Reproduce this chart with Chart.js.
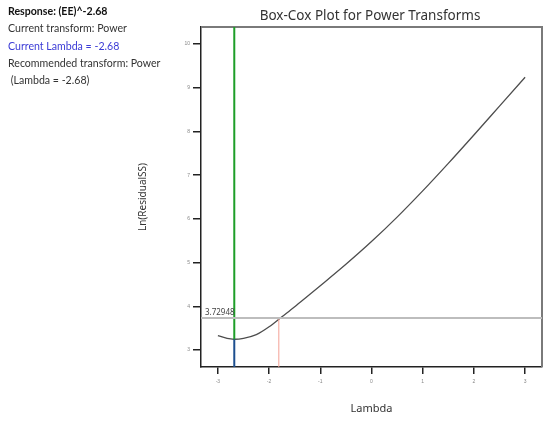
<!DOCTYPE html>
<html>
<head>
<meta charset="utf-8">
<script src="https://cdn.jsdelivr.net/npm/chart.js@4"></script>
<style>
  body { margin: 0; background: #fff; }
  #wrap { position: relative; width: 550px; height: 422px; }
  #info { position: absolute; left: 8px; top: 3px; font-family: Lato, 'Noto Sans', sans-serif; font-size: 10.6px; color: #333; line-height: 17.3px; }
  #info .b { font-weight: bold; color: #111; }
  #info .blue { color: #3b3bd6; }
</style>
</head>
<body>
<div id="wrap">
  <canvas id="boxCox" width="550" height="422"></canvas>
  <div id="info">
    <div class="b">Response: (EE)^-2.68</div>
    <div>Current transform: Power</div>
    <div class="blue">Current Lambda = -2.68</div>
    <div>Recommended transform: Power</div>
    <div>&nbsp;(Lambda = -2.68)</div>
  </div>
</div>
<script>
// values
const lambdas = [-3, -2.75, -2.68, -2.5, -2.25, -2, -1.75, -1.5, -1.25, -1, -0.5, 0, 0.5, 1, 1.5, 2, 2.5, 3];
const lnResidualSS = [3.33, 3.252, 3.245, 3.265, 3.35, 3.53, 3.76, 3.99, 4.23, 4.47, 4.96, 5.48, 6.04, 6.64, 7.27, 7.92, 8.58, 9.24];
const xTicks = [-3, -2, -1, 0, 1, 2, 3];
const yTicks = [3, 4, 5, 6, 7, 8, 9, 10];
const xMin = -3.33, xMax = 3.33, yMin = 2.61, yMax = 10.39;
const currentLambda = -2.68;
const minLn = 3.245;
const ciLevel = 3.72948;
const ciLambda = -1.81;

const curve = lambdas.map((l, i) => ({ x: l, y: lnResidualSS[i] }));

function seg(points, color, width) {
    return {
        data: points,
        showLine: true,
        borderColor: color,
        borderWidth: width,
        pointRadius: 0,
        fill: false
    };
}

const overlay = {
    id: 'overlay',
    beforeDatasetsDraw(chart) {
        const { ctx, chartArea: a } = chart;
        ctx.save();
        ctx.strokeStyle = '#7a7a7a';
        ctx.lineWidth = 2;
        ctx.beginPath();
        ctx.moveTo(a.left, a.top);
        ctx.lineTo(a.right, a.top);
        ctx.lineTo(a.right, a.bottom);
        ctx.stroke();
        ctx.restore();
    },
    afterDraw(chart) {
        const { ctx, chartArea: a, scales } = chart;
        ctx.save();
        ctx.fillStyle = '#333';
        ctx.font = '13.5px "Noto Sans", sans-serif';
        ctx.textAlign = 'center';
        ctx.textBaseline = 'middle';
        ctx.fillText('Box-Cox Plot for Power Transforms', 370, 16);

        ctx.font = '11px "Noto Sans", sans-serif';
        ctx.fillText('Lambda', (a.left + a.right) / 2, 409);

        ctx.save();
        ctx.translate(143, 197);
        ctx.rotate(-Math.PI / 2);
        ctx.font = '10px "Noto Sans", sans-serif';
        ctx.fillText('Ln(ResidualSS)', 0, 0);
        ctx.restore();

        ctx.font = '8px "Noto Sans", sans-serif';
        ctx.textAlign = 'left';
        ctx.textBaseline = 'bottom';
        ctx.fillStyle = '#444';
        ctx.fillText(ciLevel.toString(), a.left + 4, scales.y.getPixelForValue(ciLevel) - 1);
        ctx.restore();
    }
};

new Chart(document.getElementById('boxCox'), {
    type: 'scatter',
    data: {
        datasets: [
            seg([{ x: xMin, y: ciLevel }, { x: xMax, y: ciLevel }], '#bdbdbd', 2),
            seg([{ x: ciLambda, y: yMin }, { x: ciLambda, y: ciLevel }], '#f4a095', 1),
            seg([{ x: currentLambda, y: yMax }, { x: currentLambda, y: minLn }], '#1e9e28', 2),
            seg([{ x: currentLambda, y: minLn }, { x: currentLambda, y: yMin }], '#1d4f8f', 2),
            Object.assign(seg(curve, '#4d4d4d', 1.3), { cubicInterpolationMode: 'monotone' })
        ]
    },
    options: {
        responsive: false,
        animation: false,
        events: [],
        layout: { padding: { left: 0, top: 27, right: 8, bottom: 0 } },
        plugins: { legend: { display: false }, tooltip: { enabled: false } },
        scales: {
            x: {
                type: 'linear',
                min: xMin,
                max: xMax,
                afterFit: s => { s.height = 55; },
                afterBuildTicks: s => { s.ticks = xTicks.map(v => ({ value: v })); },
                grid: { drawOnChartArea: false, drawTicks: true, tickLength: 7, color: '#222', lineWidth: 1.5 },
                border: { color: '#222', width: 1.5 },
                ticks: { color: '#888', font: { size: 5 }, padding: 5 }
            },
            y: {
                type: 'linear',
                min: yMin,
                max: yMax,
                afterFit: s => { s.width = 201; },
                afterBuildTicks: s => { s.ticks = yTicks.map(v => ({ value: v })); },
                grid: { drawOnChartArea: false, drawTicks: true, tickLength: 8, color: '#222', lineWidth: 1.5 },
                border: { color: '#222', width: 1.5 },
                ticks: { color: '#888', font: { size: 5 }, padding: 3 }
            }
        }
    },
    plugins: [overlay]
});
</script>
</body>
</html>
